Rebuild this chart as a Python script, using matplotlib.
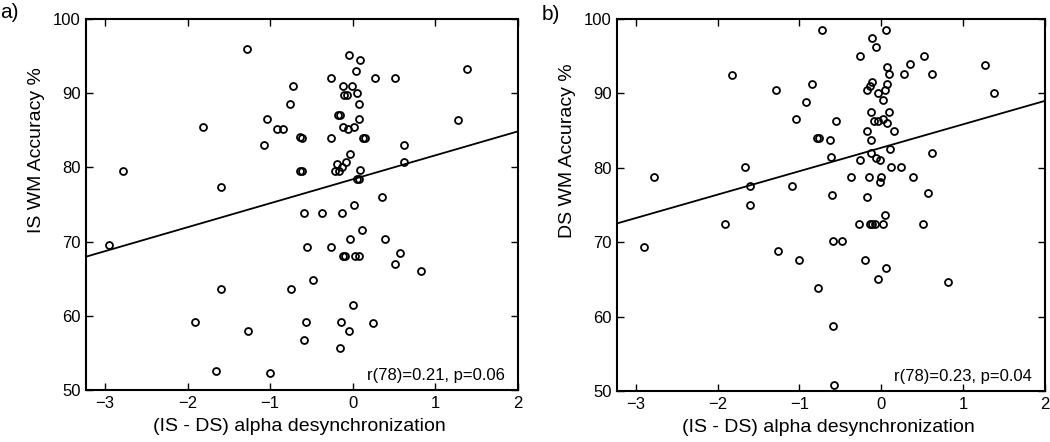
import matplotlib
matplotlib.use("Agg")
import matplotlib.pyplot as plt
import numpy as np

plt.rcParams['font.family'] = ['Liberation Sans', 'DejaVu Sans']

# panel a: IS WM accuracy vs (IS - DS) alpha desync
xa = [-1.28, -0.72, -0.76, -1.04, -1.81, -0.92, -0.85, -1.08, -2.78, -1.60,
      -0.64, -0.64, -0.61, -0.04, 0.09, 0.04, -0.26, 0.27, 0.51, 1.38,
      -0.12, -0.01, -0.11, -0.07, 0.05, 0.07, -0.18, -0.15, 0.07, -0.12,
      -0.06, 0.02, 1.27, -0.61, -0.26, 0.12, 0.15, 0.62, -0.03, -0.19,
      -0.08, -0.21, -0.17, -0.13, 0.09, 0.62, 0.05, 0.07, 0.35, -2.95,
      -1.60, -0.75, -1.91, -1.27, -1.66, -1.00, 0.01, -0.59, -0.37, -0.13,
      0.11, -0.03, 0.39, -0.55, -0.26, -0.12, -0.10, 0.03, 0.07, 0.57,
      0.51, 0.82, -0.48, 0.00, -0.57, -0.14, 0.24, -0.05, -0.59, -0.15]
ya = [96.0, 91.0, 88.5, 86.5, 85.5, 85.2, 85.2, 83.0, 79.5, 77.3,
      84.1, 79.5, 79.5, 95.1, 94.5, 93.0, 92.0, 92.0, 92.0, 93.2,
      91.0, 91.0, 89.8, 89.8, 90.0, 88.6, 87.0, 87.0, 86.5, 85.5,
      85.2, 85.5, 86.4, 84.0, 84.0, 84.0, 84.0, 83.0, 81.8, 80.5,
      80.7, 79.5, 79.5, 80.0, 79.6, 80.7, 78.5, 78.5, 76.0, 69.6,
      63.6, 63.6, 59.1, 57.9, 52.5, 52.3, 75.0, 73.9, 73.9, 73.9,
      71.6, 70.4, 70.4, 69.3, 69.3, 68.0, 68.0, 68.0, 68.0, 68.5,
      67.0, 66.0, 64.8, 61.4, 59.1, 59.1, 59.0, 57.9, 56.8, 55.7]
fit_a = (3.23, 78.4)  # slope, intercept
stat_a = "r(78)=0.21, p=0.06"

# panel b: DS WM accuracy vs (IS - DS) alpha desync
xb = [-2.78, -1.82, -1.29, -0.85, -0.92, -1.04, -0.78, -1.66, -1.60, -1.09,
      -0.72, 0.06, -0.11, -0.07, -0.26, 0.52, 0.35, 1.27, 0.07, 0.10,
      0.28, 0.62, -0.11, -0.14, 0.07, -0.17, 0.04, -0.04, 1.38, 0.02,
      -0.12, 0.09, -0.09, -0.04, 0.02, 0.07, -0.55, -0.17, 0.15, -0.76,
      -0.63, -0.12, -0.61, -0.12, 0.11, 0.62, -0.26, -0.06, -0.01, 0.12,
      0.24, -0.37, -0.15, 0.00, 0.39, -0.02, -0.60, -0.18, 0.57, -2.90,
      -1.91, -1.60, -1.26, -1.00, -0.77, 0.05, -0.27, -0.14, -0.11, -0.08,
      0.02, 0.51, -0.59, -0.48, -0.20, 0.06, -0.04, 0.82, -0.59, -0.58]
yb = [78.8, 92.5, 90.5, 91.3, 88.8, 86.6, 84.0, 80.1, 77.6, 77.6,
      98.5, 98.5, 97.5, 96.3, 95.0, 95.0, 94.0, 93.8, 93.5, 92.6,
      92.6, 92.6, 91.6, 91.0, 91.3, 90.5, 90.5, 90.1, 90.1, 89.1,
      87.5, 87.5, 86.3, 86.3, 86.6, 86.0, 86.3, 85.0, 85.0, 84.0,
      83.8, 83.8, 81.5, 82.0, 82.5, 82.0, 81.0, 81.3, 81.0, 80.1,
      80.1, 78.8, 78.8, 78.8, 78.8, 78.1, 76.3, 76.1, 76.6, 69.3,
      72.5, 75.0, 68.8, 67.6, 63.8, 73.6, 72.5, 72.5, 72.5, 72.5,
      72.5, 72.5, 70.1, 70.1, 67.6, 66.6, 65.1, 64.6, 58.8, 50.8]
fit_b = (3.15, 82.7)
stat_b = "r(78)=0.23, p=0.04"

fig = plt.figure(figsize=(10.5, 4.42), dpi=100)
ax1 = fig.add_axes([0.0819, 0.1176, 0.4114, 0.8394])
ax2 = fig.add_axes([0.5876, 0.1153, 0.4076, 0.8417])

panels = [(ax1, xa, ya, fit_a, stat_a, "IS WM Accuracy %"),
          (ax2, xb, yb, fit_b, stat_b, "DS WM Accuracy %")]

for ax, x, y, fit, stat, ylab in panels:
    xl = (-3.23, 2)
    ax.plot(x, y, 'o', mfc='none', mec='black', ms=5, mew=1.3, ls='none')
    lx = np.array(xl)
    ax.plot(lx, fit[0]*lx + fit[1], color='black', lw=1.3)
    ax.set_xlim(*xl)
    ax.set_ylim(50, 100)
    ax.set_xticks([-3, -2, -1, 0, 1, 2])
    ax.set_yticks([50, 60, 70, 80, 90, 100])
    ax.tick_params(direction='in', top=True, right=True, length=5, width=1,
                   labelsize=12, pad=4)
    for s in ax.spines.values():
        s.set_linewidth(1.5)
    ax.set_xlabel("(IS - DS) alpha desynchronization", fontsize=14)
    ax.xaxis.set_label_coords(0.495, -0.075)
    ax.set_ylabel(ylab, fontsize=14, va='center')
    ax.yaxis.set_label_coords(-0.115, 0.647)
    ax.text(0.97, 0.02, stat, transform=ax.transAxes, ha='right', va='bottom',
            fontsize=12)

fig.text(0.0, 0.972, "a)", fontsize=15, ha='left', va='center')
fig.text(0.516, 0.968, "b)", fontsize=15, ha='left', va='center')

fig.savefig("out.png", dpi=100)
